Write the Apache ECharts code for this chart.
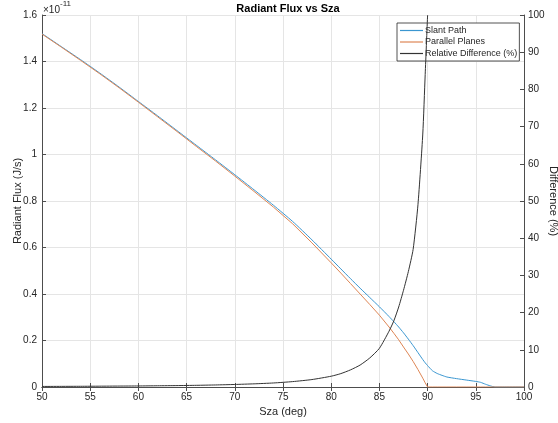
<!DOCTYPE html>
<html>
<head>
<meta charset="utf-8">
<script src="https://cdn.jsdelivr.net/npm/echarts@6/dist/echarts.min.js"></script>
<style>
html,body{margin:0;padding:0;background:#fff;}
#chart{width:558px;height:423px;}
</style>
</head>
<body>
<div id="chart"></div>
<script>
// Solar zenith angle (deg)
var sza = [50,52,54,56,58,60,62,64,66,68,70,72,74,76,78,80,81,82,83,84,85,86,86.5,87,87.5,88,88.5,89,89.5,89.75,90,90.5,91,91.5,92,93,94,95,95.5,96,96.5,97,98,100];
// Radiant flux, in units of 1e-11 J/s
var slantPath = [1.520,1.464,1.408,1.350,1.290,1.228,1.166,1.103,1.040,0.977,0.913,0.848,0.782,0.712,0.633,0.550,0.508,0.466,0.425,0.385,0.345,0.303,0.281,0.258,0.233,0.206,0.178,0.148,0.118,0.104,0.092,0.070,0.058,0.050,0.043,0.036,0.030,0.024,0.020,0.012,0.005,0,0,0];
var parallelPlanes = [1.518,1.462,1.405,1.347,1.287,1.225,1.162,1.099,1.035,0.972,0.907,0.841,0.774,0.702,0.620,0.534,0.490,0.445,0.400,0.355,0.309,0.258,0.231,0.203,0.172,0.142,0.110,0.075,0.038,0.018,0,0,0,0,0,0,0,0,0,0,0,0,0,0];
// Relative difference (%)
var relDiff = [0.15,0.17,0.19,0.22,0.25,0.28,0.33,0.38,0.45,0.55,0.68,0.85,1.08,1.45,2.0,2.9,3.6,4.6,5.9,7.8,10.4,15.0,17.8,21.5,26.0,31.0,37.0,49.0,68.0,84.0,100,null,null,null,null,null,null,null,null,null,null,null,null,null];

var fluxTicks = ['0','0.2','0.4','0.6','0.8','1','1.2','1.4','1.6'];

function pairs(xs, ys){ return xs.map(function(x,i){ return [x, ys[i]]; }); }

var txt = '#262626', axc = '#4d4d4d', font = 'Liberation Sans, Arial, sans-serif';
var chart = echarts.init(document.getElementById('chart'));
chart.setOption({
  animation:false,
  backgroundColor:'#fff',
  title:{text:'Radiant Flux vs Sza', left:283, textAlign:'center', top:-2,
    textStyle:{fontSize:11, fontWeight:'bold', color:'#000', fontFamily:font}},
  grid:{left:42, right:34, top:15, bottom:36, containLabel:false, outerBoundsMode:'none'},
  legend:{orient:'vertical', left:397, top:23, icon:'rect', itemWidth:23, itemHeight:1.2, itemGap:2.5,
    padding:[3,2,3,3], borderColor:'#262626', borderWidth:0.8, backgroundColor:'#fff',
    textStyle:{fontSize:9, color:txt, fontFamily:font, padding:[0,0,0,-3]},
    data:['Slant Path','Parallel Planes','Relative Difference (%)']},
  xAxis:[{type:'value', min:50, max:100, interval:5, position:'bottom',
    name:'Sza (deg)', nameLocation:'middle', nameGap:19, nameMoveOverlap:false,
    nameTextStyle:{fontSize:11, color:txt, fontFamily:font},
    axisLine:{lineStyle:{color:axc, width:1}},
    axisTick:{inside:true, length:4, lineStyle:{color:axc}},
    axisLabel:{fontSize:10, color:txt, fontFamily:font, margin:5},
    splitLine:{show:true, lineStyle:{color:'#e5e5e5', width:1}}},
   {type:'value', min:50, max:100, interval:5, position:'top',
    axisLine:{lineStyle:{color:axc, width:1}},
    axisTick:{inside:true, length:4, lineStyle:{color:axc}},
    axisLabel:{show:false}, splitLine:{show:false}}],
  yAxis:[{type:'value', min:0, max:1.6, interval:0.2, position:'left',
    name:'Radiant Flux (J/s)', nameLocation:'middle', nameGap:19, nameMoveOverlap:false,
    nameTextStyle:{fontSize:11, color:txt, fontFamily:font},
    axisLine:{show:true, lineStyle:{color:axc, width:1}},
    axisTick:{show:true, inside:true, length:4, lineStyle:{color:axc}},
    axisLabel:{fontSize:10, color:txt, fontFamily:font, margin:5,
      formatter:function(v){ var i=Math.round(v/0.2); return fluxTicks[i]; }},
    splitLine:{show:true, lineStyle:{color:'#e5e5e5', width:1}}},
   {type:'value', min:0, max:100, interval:10, position:'right',
    name:'Difference (%)', nameLocation:'middle', nameGap:35, nameRotate:-90, nameMoveOverlap:false,
    nameTextStyle:{fontSize:11, color:txt, fontFamily:font, verticalAlign:'top'},
    axisLine:{show:true, lineStyle:{color:axc, width:1}},
    axisTick:{show:true, inside:true, length:4, lineStyle:{color:axc}},
    axisLabel:{fontSize:10, color:txt, fontFamily:font, margin:4},
    splitLine:{show:false}}],
  graphic:[{type:'text', left:43, top:0,
    style:{text:'{a|×10}{b|-11}', rich:{a:{fontSize:10, fill:txt, fontFamily:font, padding:[5,0,0,0]}, b:{fontSize:8, fill:txt, fontFamily:font, verticalAlign:'top', padding:[0,0,6,0]}}}}],
  series:[
    {name:'Slant Path', type:'line', xAxisIndex:0, yAxisIndex:0, data:pairs(sza, slantPath),
      showSymbol:false, symbol:'none', smooth:0.2, lineStyle:{color:'#3a96d0', width:1}, itemStyle:{color:'#3a96d0'}, z:2},
    {name:'Parallel Planes', type:'line', xAxisIndex:0, yAxisIndex:0, data:pairs(sza, parallelPlanes),
      showSymbol:false, symbol:'none', lineStyle:{color:'#de8655', width:1}, itemStyle:{color:'#de8655'}, z:3},
    {name:'Relative Difference (%)', type:'line', xAxisIndex:0, yAxisIndex:1, data:pairs(sza, relDiff),
      showSymbol:false, symbol:'none', smooth:0.2, connectNulls:false, lineStyle:{color:'#333333', width:1}, itemStyle:{color:'#333333'}, z:4}
  ]
});
</script>
</body>
</html>
